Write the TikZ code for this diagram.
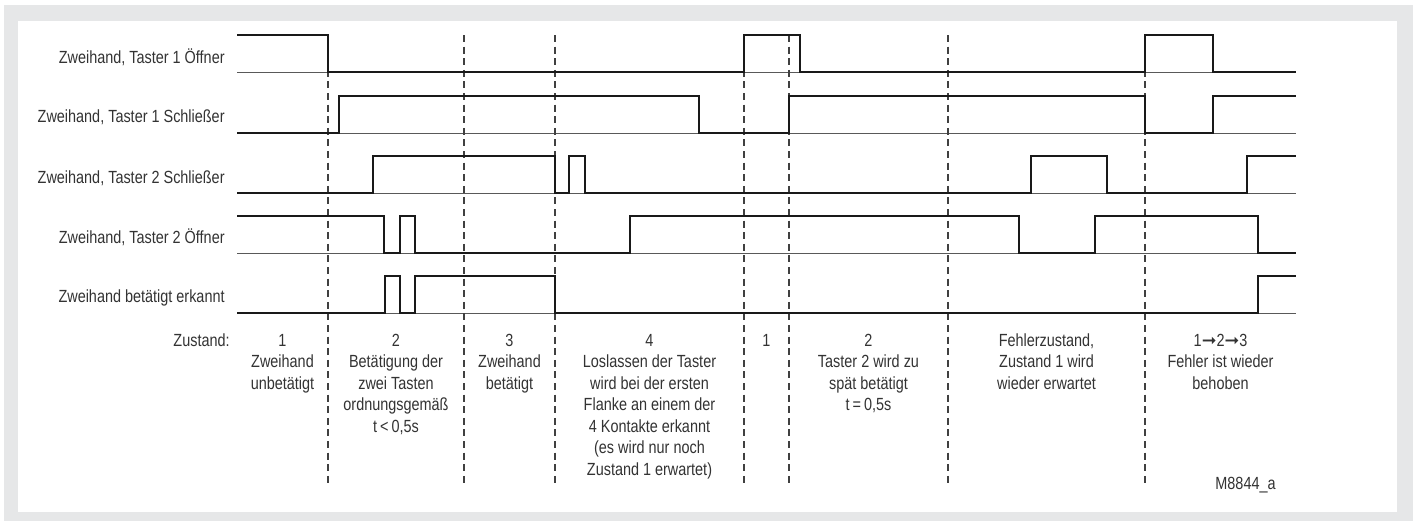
\documentclass[tikz,border=0pt]{standalone}
\usepackage{fontspec}
\setmainfont{Liberation Sans}[FakeStretch=0.82]
\newfontfamily\dejavu{DejaVu Sans}
\definecolor{framegray}{HTML}{E6E7E8}
\definecolor{txt}{HTML}{333333}
\newcommand{\zcol}[1]{\begin{tabular}[t]{@{}c@{}}#1\end{tabular}}
\newcommand{\zarr}{{\dejavu\char"279E}}
\begin{document}
\begin{tikzpicture}[x=0.5pt,y=-0.5pt,
  sig/.style={line width=1.4pt,black!90,line join=miter},
  base/.style={line width=0.5pt,black!65},
  sep/.style={line width=0.55pt,black!75,dash pattern=on 3.5pt off 2.3pt},
  lbl/.style={anchor=base east,inner sep=0pt,text=txt,font=\fontsize{8.8}{10.75}\selectfont},
  colt/.style={anchor=base,inner sep=0pt,text=txt,font=\fontsize{8.8}{10.75}\selectfont}]
\useasboundingbox (0,0) rectangle (1417,521);
\fill[white] (0,0) rectangle (1417,521);
\fill[framegray] (4,5) rectangle (1413,521);
\fill[white] (18,21) rectangle (1397,512);
% baselines
\foreach \y in {72,133,193,253,313} \draw[base] (237,\y) -- (1296,\y);
% separators
\foreach \x in {328,464,555,744,789,948,1145} \draw[sep] (\x,35) -- (\x,487);
% signals
\draw[sig] (237,35) -| (328,72) -| (744,35) -| (800,72) -| (1145,35) -| (1213,72) -- (1296,72);
\draw[sig] (237,133) -| (339,96) -| (699,133) -| (789,96) -| (1145,133) -| (1213,96) -- (1296,96);
\draw[sig] (237,193) -| (373,156) -| (555,193) -| (569,156) -| (585,193) -| (1031,156) -| (1107,193) -| (1247,156) -- (1296,156);
\draw[sig] (237,216) -| (384,253) -| (400,216) -| (415,253) -| (630,216) -| (1019,253) -| (1095,216) -| (1258,253) -- (1296,253);
\draw[sig] (237,313) -| (385,276) -| (400,313) -| (415,276) -| (555,313) -| (1258,276) -- (1296,276);
% labels
\node[lbl] (lbl1) at (225,63) {Zweihand, Taster 1 Öffner};
\node[lbl] (lbl2) at (225,122) {Zweihand, Taster 1 Schließer};
\node[lbl] (lbl3) at (225,183) {Zweihand, Taster 2 Schließer};
\node[lbl] (lbl4) at (225,243) {Zweihand, Taster 2 Öffner};
\node[lbl] (lbl5) at (225,302) {Zweihand betätigt erkannt};
\node[lbl] (zst) at (230,346) {Zustand:};
% state columns
\node[colt] (c1) at (282.5,346) {\zcol{1\\Zweihand\\unbetätigt}};
\node[colt] (c2) at (396,346) {\zcol{2\\Betätigung der\\zwei Tasten\\ordnungsgemäß\\t\,<\,0,5s}};
\node[colt] (c3) at (509.5,346) {\zcol{3\\Zweihand\\betätigt}};
\node[colt] (c4) at (649.5,346) {\zcol{4\\Loslassen der Taster\\wird bei der ersten\\Flanke an einem der\\4 Kontakte erkannt\\(es wird nur noch\\Zustand 1 erwartet)}};
\node[colt] (c5) at (766.5,346) {\zcol{1}};
\node[colt] (c6) at (868.5,346) {\zcol{2\\Taster 2 wird zu\\spät betätigt\\t\,=\,0,5s}};
\node[colt] (c7) at (1046.5,346) {\zcol{Fehlerzustand,\\Zustand 1 wird\\wieder erwartet}};
\node[colt] (c8) at (1220.5,346) {\zcol{1\zarr2\zarr3\\Fehler ist wieder\\behoben}};
\node[lbl] (code) at (1276,489) {M8844\_a};
\end{tikzpicture}
\end{document}
